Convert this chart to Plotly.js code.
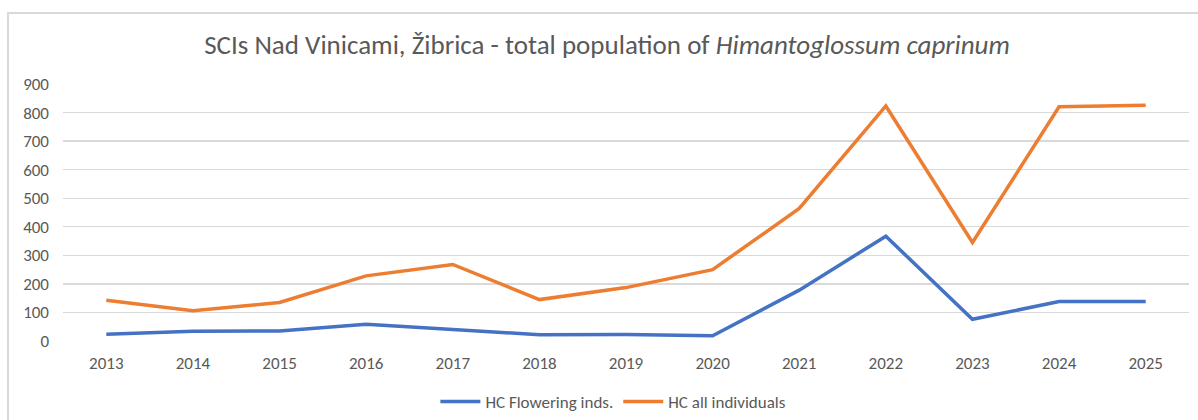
<!DOCTYPE html>
<html>
<head>
<meta charset="utf-8">
<script src="https://cdn.plot.ly/plotly-3.0.1.min.js"></script>
<style>
  html, body { margin: 0; padding: 0; background: #fff; }
  #chart { position: absolute; left: 0; top: 0; width: 1198px; height: 420px; }
  #frame { position: absolute; left: 7px; top: 12px; width: 1191px; height: 408px;
           border-top: 2px solid #d9d9d9; border-left: 2px solid #d9d9d9; pointer-events: none; box-sizing: border-box; }
</style>
</head>
<body>
<div id="chart"></div>
<div id="frame"></div>
<script>
const years = ["2013","2014","2015","2016","2017","2018","2019","2020","2021","2022","2023","2024","2025"];
const flowering = [24, 34, 35, 59, 40, 22, 23, 18, 178, 367, 76, 138, 138];
const allIndividuals = [143, 106, 135, 228, 268, 145, 187, 250, 464, 823, 345, 820, 826];
const yTicks = [0, 100, 200, 300, 400, 500, 600, 700, 800, 900];

const FONT = "Calibri, Carlito, 'Liberation Sans Narrow', 'Open Sans', sans-serif";

const traces = [
  { x: years, y: flowering, type: 'scatter', mode: 'lines', name: 'HC Flowering inds.',
    line: { color: '#4472C4', width: 3.5 } },
  { x: years, y: allIndividuals, type: 'scatter', mode: 'lines', name: 'HC all individuals',
    line: { color: '#ED7D31', width: 3.5 } }
];

const layout = {
  width: 1198, height: 420,
  paper_bgcolor: '#ffffff', plot_bgcolor: '#ffffff',
  margin: { l: 63, r: 9, t: 84, b: 79 },
  font: { family: FONT, color: '#595959', size: 17 },
  title: { text: "SCIs Nad Vinicami, Žibrica - total population of <i>Himantoglossum caprinum</i>",
           font: { family: FONT, size: 27, color: '#595959' },
           x: 607/1198, xref: 'container', xanchor: 'center', y: 1 - 45/420, yref: 'container', yanchor: 'middle' },
  xaxis: { type: 'category', categoryarray: years, range: [-0.5, 12.5], showgrid: false, zeroline: false,
           showline: false, ticks: '', tickfont: { size: 17, color: '#595959' }, ticklabelstandoff: 10 },
  yaxis: { range: [0, 900], tickvals: yTicks, showgrid: true, gridcolor: '#d9d9d9', gridwidth: 1.3,
           zeroline: false, showline: false, ticks: '', tickfont: { size: 17, color: '#595959' }, ticklabelstandoff: 13 },
  showlegend: true,
  legend: { orientation: 'h', xref: 'container', yref: 'container', x: 0.512, xanchor: 'center',
            y: 1 - 402/420, yanchor: 'middle', font: { size: 17, color: '#595959' }, itemwidth: 40 },
  hovermode: false
};

Plotly.newPlot('chart', traces, layout, { staticPlot: true, displayModeBar: false });
</script>
</body>
</html>
